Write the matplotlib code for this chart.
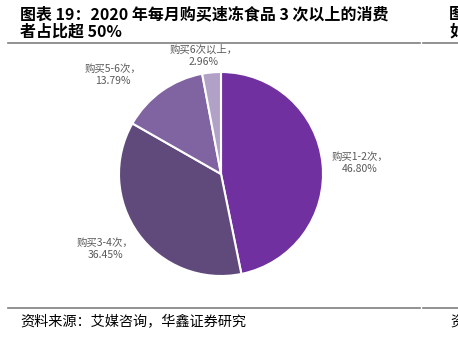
import matplotlib.pyplot as plt
from matplotlib.lines import Line2D

plt.rcParams['font.family'] = ['Noto Sans CJK SC', 'DejaVu Sans']

# data
labels = ['购买1-2次，', '购买3-4次，', '购买5-6次，', '购买6次以上，']
values = [46.80, 36.45, 13.79, 2.96]
colors = ['#7030A0', '#604A7B', '#8064A2', '#B2A1C7']

W, H = 458, 342
fig = plt.figure(figsize=(W / 100, H / 100), dpi=100)

# pie placement in pixels
cx, cy, r = 221, 174, 102
ax = fig.add_axes([(cx - r) / W, (H - cy - r) / H, 2 * r / W, 2 * r / H])
ax.pie(values, colors=colors, startangle=90, counterclock=False, radius=1,
       wedgeprops=dict(edgecolor='white', linewidth=1.5))
ax.set_xlim(-1, 1)
ax.set_ylim(-1, 1)
ax.set_aspect('equal')
ax.axis('off')

# label centres in pixels
label_pos = [(360, 163), (105, 249), (113, 75), (204, 56)]
for lab, v, (px, py) in zip(labels, values, label_pos):
    ax.text((px - cx) / r, (cy - py) / r, f'{lab}\n{v:.2f}%', ha='center', va='center',
            fontsize=7.5, color='#595959', linespacing=1.3, clip_on=False)

# title
tfs = 11.5
fig.text(20 / W, 1 - 14 / H, '图表 19：2020 年每月购买速冻食品 3 次以上的消费', fontsize=tfs,
         fontweight='bold', va='center', ha='left')
fig.text(20 / W, 1 - 32 / H, '者占比超 50%', fontsize=tfs, fontweight='bold', va='center', ha='left')
fig.text(449 / W, 1 - 14 / H, '图', fontsize=tfs, fontweight='bold', va='center', ha='left')
fig.text(449 / W, 1 - 32 / H, '如', fontsize=tfs, fontweight='bold', va='center', ha='left')

# rules
for y in (43, 308):
    fig.add_artist(Line2D([8 / W, 420 / W], [1 - y / H] * 2, color='#7f7f7f', lw=1.2))
    fig.add_artist(Line2D([423 / W, 1], [1 - y / H] * 2, color='#7f7f7f', lw=1.2))

# source
fig.text(20 / W, 1 - 322 / H, '资料来源：艾媒咨询，华鑫证券研究', fontsize=10.2, va='center', ha='left')
fig.text(450 / W, 1 - 322 / H, '资', fontsize=10.2, va='center', ha='left')

fig.savefig('out.png', dpi=100)
